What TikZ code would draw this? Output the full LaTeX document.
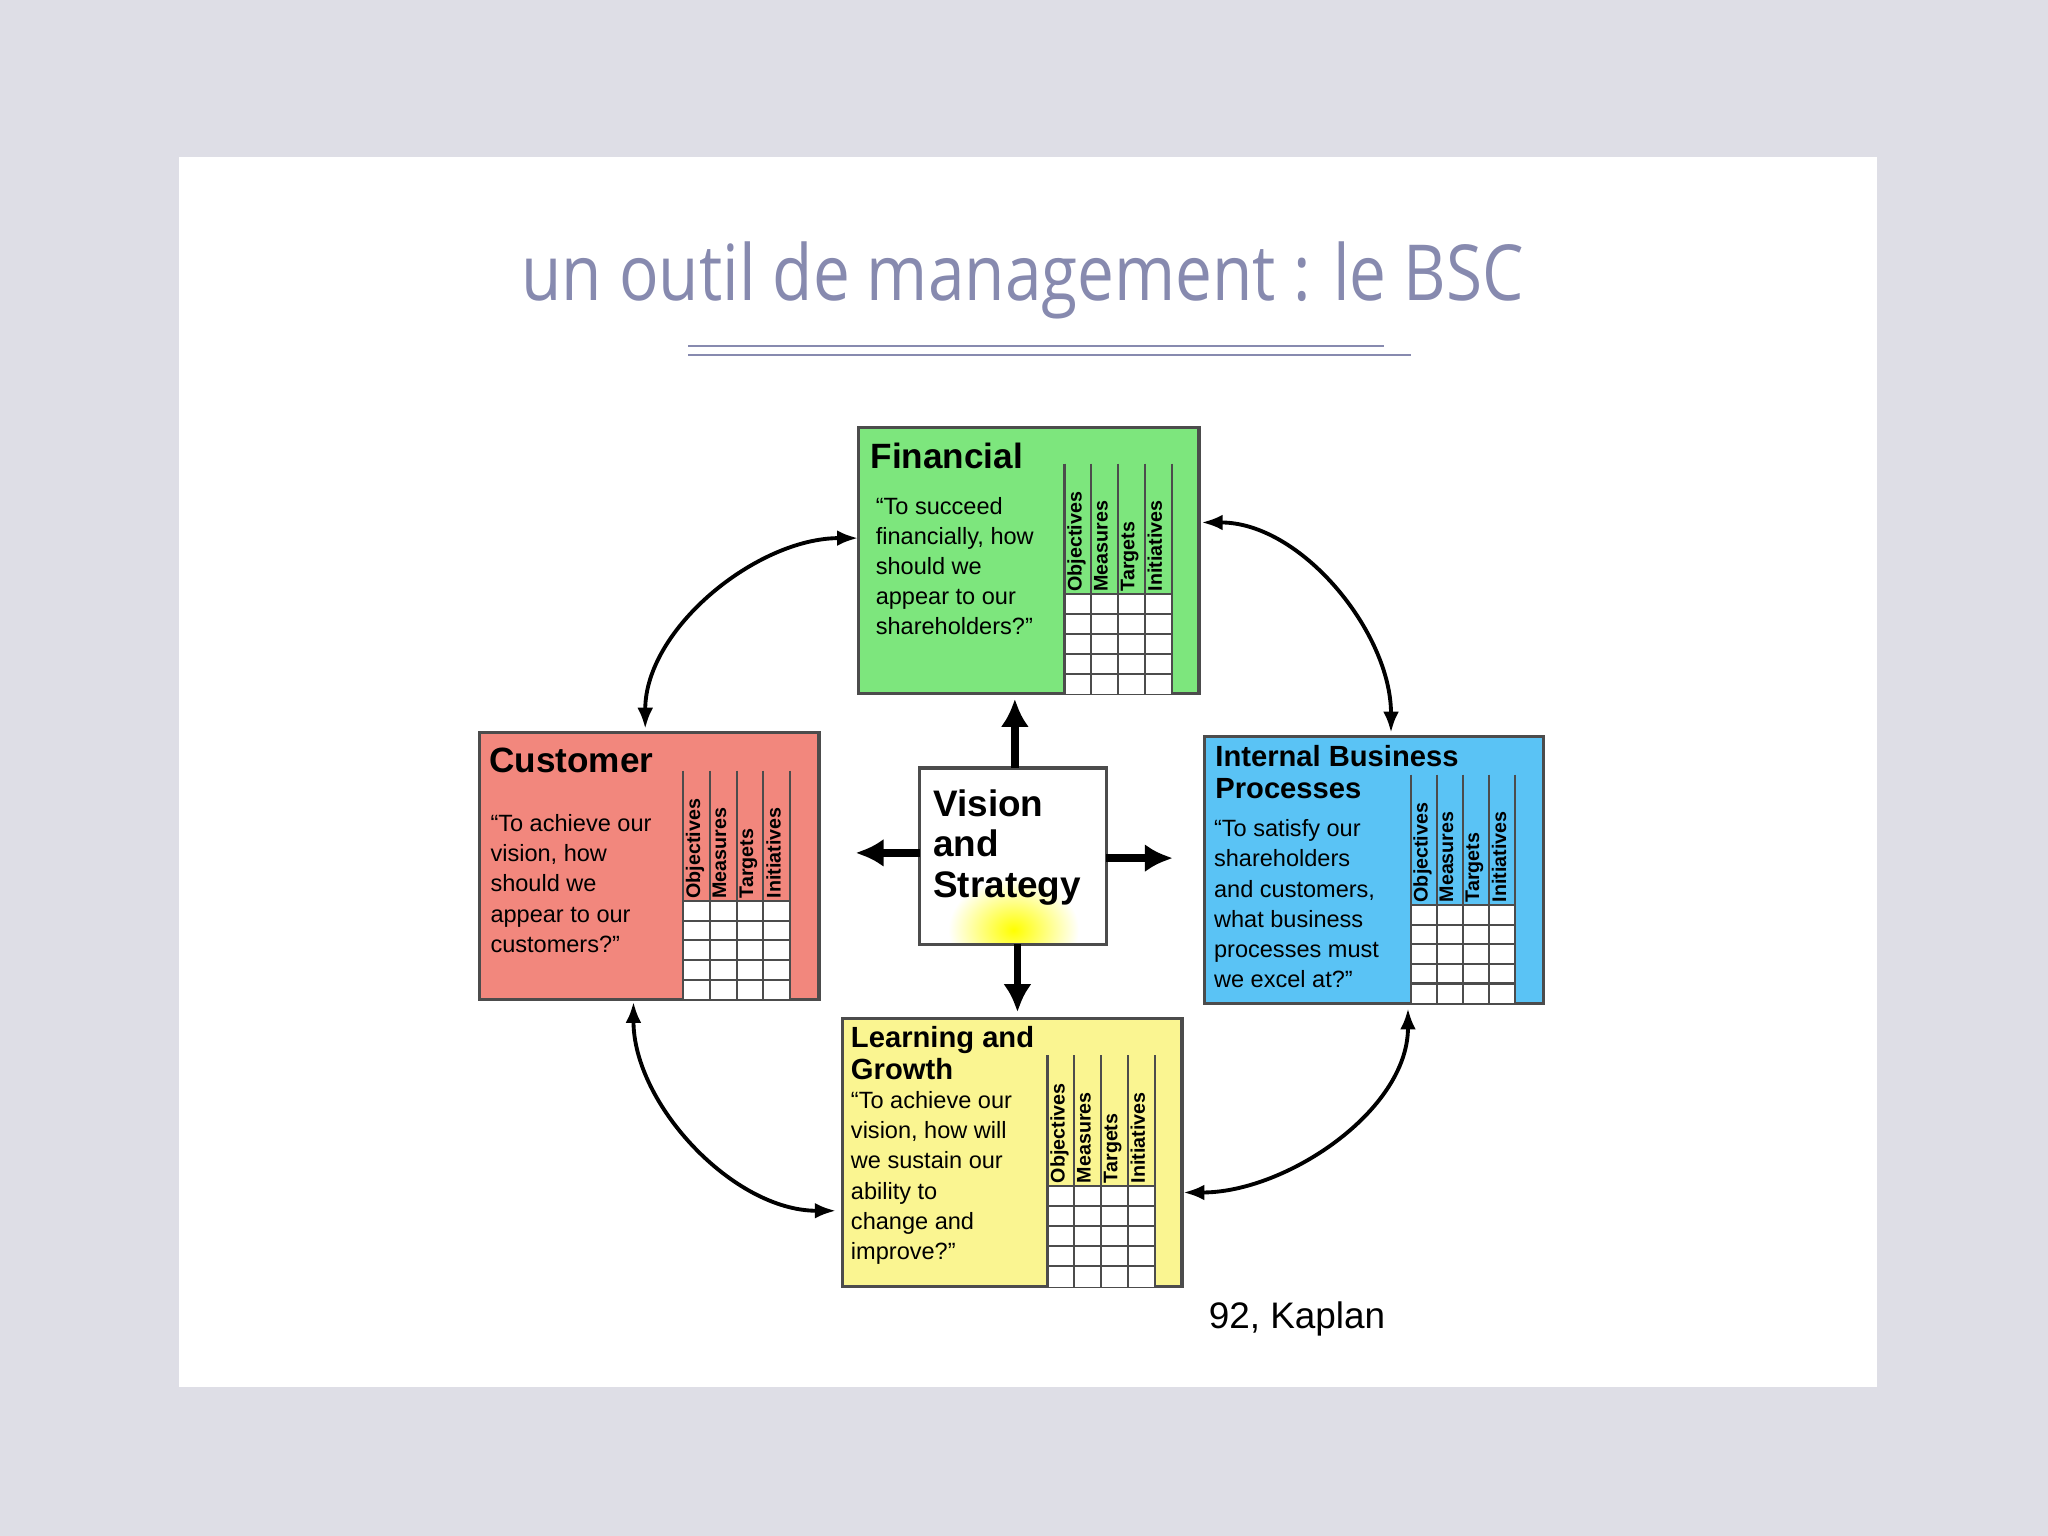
\documentclass[tikz,border=0pt]{standalone}
\usepackage{fontspec}
\setmainfont{Liberation Sans}
\newfontfamily\titlefont{Open Sans}
\usetikzlibrary{arrows.meta}
\definecolor{bg}{RGB}{222,222,230}
\definecolor{fin}{RGB}{125,230,125}
\definecolor{cus}{RGB}{242,135,125}
\definecolor{ibp}{RGB}{90,195,245}
\definecolor{lrn}{RGB}{250,245,145}
\definecolor{ttl}{RGB}{135,138,175}
\tikzset{
 box/.style={draw=black!70,line width=0.9pt},
 ttxt/.style={anchor=north west,font=\fontsize{10}{11}\selectfont\bfseries,align=left,inner sep=0pt},
 qtxt/.style={anchor=north west,font=\fontsize{6.7}{8.6}\selectfont,align=left,inner sep=0pt},
 vtxt/.style={rotate=90,anchor=north west,font=\fontsize{5.6}{7}\selectfont\bfseries,inner sep=0.6pt},
 cyc/.style={{Latex[length=6pt]}-{Latex[length=6pt]},line width=1.1pt},
 thick4/.style={-{Latex[length=8pt,width=8pt]},line width=2.2pt}
}
% #1 x0  #2 colw  #3 yheadtop  #4 ygrid  #5 ybot
\newcommand\bscgrid[5]{%
 \foreach \i in {0,1,2,3,4}{\draw[black!70,line width=0.6pt] ({#1+\i*#2},#3) -- ({#1+\i*#2},#5);}
 \fill[white] (#1,#4) rectangle ({#1+4*#2},#5);
 \foreach \i in {0,1,2,3,4}{\draw[black!70,line width=0.6pt] ({#1+\i*#2},#4) -- ({#1+\i*#2},#5);}
 \foreach \j in {0,1,2,3,4}{\draw[black!70,line width=0.6pt] (#1,{#4+\j*(#5-#4)/5}) -- ({#1+4*#2},{#4+\j*(#5-#4)/5});}
 \node[vtxt] at ({#1+0*#2},#4) {Objectives};
 \node[vtxt] at ({#1+1*#2},#4) {Measures};
 \node[vtxt] at ({#1+2*#2},#4) {Targets};
 \node[vtxt] at ({#1+3*#2},#4) {Initiatives};
}
\begin{document}
\begin{tikzpicture}[x=0.013061cm,y=-0.013061cm]
\fill[bg] (0,0) rectangle (1568,1176);
\fill[white] (137,120) rectangle (1437,1062);
\node[font=\titlefont\fontsize{22}{26}\selectfont,text=ttl,xscale=0.85] (title) at (783,215) {un outil de management : le BSC};
\draw[ttl,line width=0.7pt] (527,265) -- (1060,265);
\draw[ttl,line width=0.7pt] (527,272) -- (1080,272);
% Financial
\path[box,fill=fin] (657,327) rectangle (918,531);
\node (fin) at (787,429) {};
\bscgrid{815}{20.5}{355}{455}{531}
\node[ttxt] (fint) at (666,339) {Financial};
\node[qtxt] (finq) at (670,380) {“To succeed\\financially, how\\should we\\appear to our\\shareholders?”};
% Customer
\path[box,fill=cus] (367,561) rectangle (627,765);
\node (cus) at (497,663) {};
\bscgrid{523}{20.5}{590}{690}{765}
\node[ttxt] (cust) at (374,572) {Customer};
\node[qtxt] (cusq) at (375,623) {“To achieve our\\vision, how\\should we\\appear to our\\customers?”};
% Internal
\path[box,fill=ibp] (922,564) rectangle (1182,768);
\node (ibp) at (1052,666) {};
\bscgrid{1080}{20}{593}{693}{768}
\node[ttxt,font=\fontsize{8.3}{9.2}\selectfont\bfseries] (ibpt) at (930,570) {Internal Business\\Processes};
\node[qtxt] (ibpq) at (929,627) {“To satisfy our\\shareholders\\and customers,\\what business\\processes must\\we excel at?”};
% Learning
\path[box,fill=lrn] (645,780) rectangle (905,985);
\node (lrn) at (775,882) {};
\bscgrid{802}{20.5}{808}{908}{985}
\node[ttxt,font=\fontsize{8.3}{9.2}\selectfont\bfseries] (lrnt) at (651,785) {Learning and\\Growth};
\node[qtxt] (lrnq) at (651,835) {“To achieve our\\vision, how will\\we sustain our\\ability to\\change and\\improve?”};
% Vision
\begin{scope}
\clip (704,588) rectangle (847,723);
\fill[white] (704,588) rectangle (847,723);
\shade[inner color=yellow,outer color=white] (776,712) ellipse [x radius=50,y radius=40];
\end{scope}
\draw[box] (704,588) rectangle (847,723);
\node[ttxt,font=\fontsize{10.5}{11.5}\selectfont\bfseries] (vis) at (714,604) {Vision\\and\\Strategy};
\draw[thick4] (777,588) -- (777,535);
\draw[thick4] (704,653) -- (655,653);
\draw[thick4] (847,657) -- (898,657);
\draw[thick4] (779,723) -- (779,775);
% cycle arrows
\coordinate (a1) at (657,412); \coordinate (a2) at (494,558);
\coordinate (b1) at (920,400); \coordinate (b2) at (1065,561);
\coordinate (c1) at (1078,772); \coordinate (c2) at (906,913);
\coordinate (d1) at (640,927); \coordinate (d2) at (485,767);
\draw[cyc] (a1) to[out=180,in=90,looseness=0.9] (a2);
\draw[cyc] (b1) to[out=0,in=90,looseness=0.9] (b2);
\draw[cyc] (c1) to[out=270,in=0,looseness=0.9] (c2);
\draw[cyc] (d1) to[out=180,in=270,looseness=0.9] (d2);
\node[font=\fontsize{10.5}{13}\selectfont] (src) at (993,1010) {92, Kaplan};
\end{tikzpicture}
\end{document}
